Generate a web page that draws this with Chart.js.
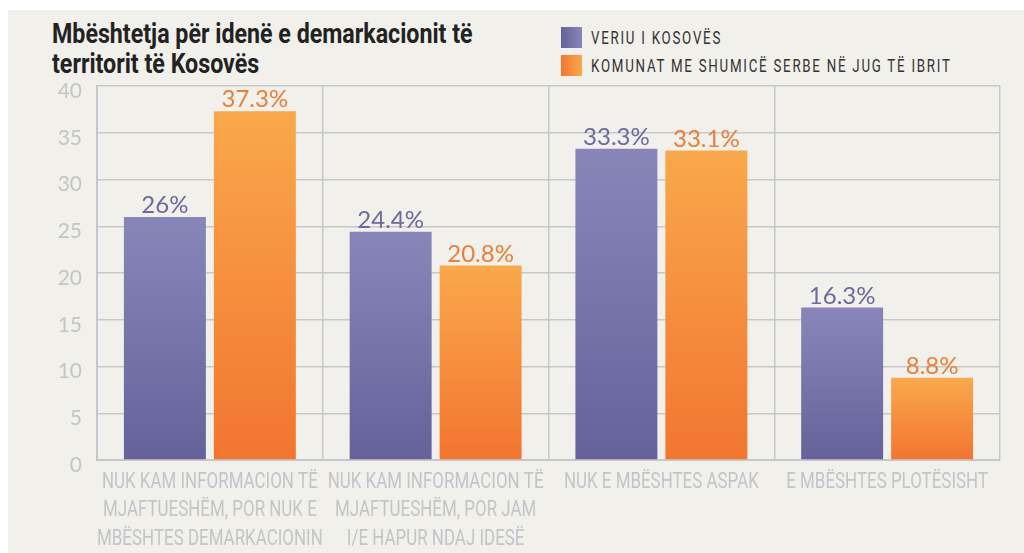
<!DOCTYPE html>
<html>
<head>
<meta charset="utf-8">
<script src="https://cdn.jsdelivr.net/npm/chart.js@4.4.1/dist/chart.umd.min.js"></script>
<style>
  body { margin: 0; background: #fff; width: 1024px; height: 553px; overflow: hidden; position: relative; }
  #panel { position: absolute; left: 8px; top: 10px; right: 0; bottom: 0; background: #f1f0eb; }
  #wrap { position: absolute; left: 0; top: 0; width: 1024px; height: 553px; }
  .title { position: absolute; left: 52px; top: 19px; font-family: Roboto, sans-serif; font-weight: 700;
    font-size: 27px; line-height: 30px; color: #222; transform: scaleX(0.86); transform-origin: 0 0; white-space: nowrap; }
  .legend { position: absolute; left: 561px; top: 27px; }
  .item { height: 28px; position: relative; }
  .sw { position: absolute; left: 0; top: 0; width: 21px; height: 21px; }
  .lt { position: absolute; left: 30px; top: 0; line-height: 21px; font-family: Roboto, sans-serif; font-size: 19px;
    letter-spacing: 2.5px; color: #333; white-space: nowrap; transform: scaleX(0.7); transform-origin: 0 50%; }
</style>
</head>
<body>
<div id="panel"></div>
<div class="title">Mbështetja për idenë e demarkacionit të<br>territorit të Kosovës</div>
<div class="legend" id="legend"></div>
<div id="wrap"><canvas id="barChart"></canvas></div>
<script>
// Mbështetja për idenë e demarkacionit

const categories = [
  ['NUK KAM INFORMACION TË', 'MJAFTUESHËM, POR NUK E', 'MBËSHTES DEMARKACIONIN'],
  ['NUK KAM INFORMACION TË', 'MJAFTUESHËM, POR JAM', 'I/E HAPUR NDAJ IDESË'],
  ['NUK E MBËSHTES ASPAK'],
  ['E MBËSHTES PLOTËSISHT'],
]
const seriesNames = ['VERIU I KOSOVËS', 'KOMUNAT ME SHUMICË SERBE NË JUG TË IBRIT']
const veriu = [26, 24.4, 33.3, 16.3]
const komunat = [37.3, 20.8, 33.1, 8.8]
const yMax = 40
const yStep = 5

const colors = [
  { light: '#8886b9', dark: '#646299', label: '#6a69a0' },
  { light: '#f9a84b', dark: '#f27530', label: '#e97f38' },
]

// legend in html, swatches go dark -> light from left
const legend = document.getElementById('legend')
seriesNames.forEach((name, i) => {
  const c = colors[i]
  legend.innerHTML +=
    '<div class="item"><span class="sw" style="background:linear-gradient(to right,' + c.dark + ',' + c.light + ')"></span>' +
    '<span class="lt">' + name + '</span></div>'
})

// vertical gradient per bar, light on top
function barGradient(c) {
  return (context) => {
    const chart = context.chart
    if (!chart.chartArea || context.type !== 'data') return c.light
    const y = chart.scales.y
    const top = y.getPixelForValue(context.parsed.y)
    const bottom = y.getPixelForValue(0)
    const g = chart.ctx.createLinearGradient(0, top, 0, bottom)
    g.addColorStop(0, c.light)
    g.addColorStop(1, c.dark)
    return g
  }
}

function fmt(v) {
  return (Number.isInteger(v) ? v : v.toFixed(1)) + '%'
}

const valueLabels = {
  id: 'valueLabels',
  afterDatasetsDraw(chart) {
    const ctx = chart.ctx
    ctx.save()
    ctx.font = '24px Lato'
    ctx.textAlign = 'center'
    ctx.textBaseline = 'alphabetic'
    chart.data.datasets.forEach((ds, di) => {
      ctx.fillStyle = colors[di].label
      chart.getDatasetMeta(di).data.forEach((bar, i) => {
        ctx.fillText(fmt(ds.data[i]), bar.x, bar.y - 4)
      })
    })
    ctx.restore()
  },
}

// condensed category labels under the axis
const xLabels = {
  id: 'xLabels',
  afterDraw(chart) {
    const ctx = chart.ctx
    const x = chart.scales.x
    ctx.save()
    ctx.font = '22px Roboto'
    ctx.fillStyle = '#c3c4c9'
    ctx.textAlign = 'center'
    ctx.textBaseline = 'middle'
    categories.forEach((lines, i) => {
      const cx = x.getPixelForValue(i)
      lines.forEach((line, j) => {
        ctx.save()
        ctx.translate(cx, chart.chartArea.bottom + 22 + j * 28.8)
        ctx.scale(0.77, 1)
        ctx.fillText(line, 0, 0)
        ctx.restore()
      })
    })
    ctx.restore()
  },
}

const data = {
  labels: categories,
  datasets: [
    {
      label: seriesNames[0],
      data: veriu,
      backgroundColor: barGradient(colors[0]),
      categoryPercentage: 0.797,
      barPercentage: 0.911,
    },
    {
      label: seriesNames[1],
      data: komunat,
      backgroundColor: barGradient(colors[1]),
      categoryPercentage: 0.797,
      barPercentage: 0.911,
    },
  ],
}

const gridColor = '#c6c7cc'

const config = {
  type: 'bar',
  data: data,
  options: {
    responsive: true,
    maintainAspectRatio: false,
    animation: false,
    layout: { padding: { top: 86, right: 24, bottom: 93, left: 0 } },
    plugins: {
      legend: { display: false },
      tooltip: { enabled: false },
    },
    scales: {
      x: {
        grid: { color: gridColor, lineWidth: 1.5, drawTicks: false },
        border: { color: gridColor, width: 2 },
        ticks: { display: false },
        afterFit: (s) => { s.height = 0 },
      },
      y: {
        min: 0,
        max: yMax,
        grid: { color: gridColor, lineWidth: 1.5, drawTicks: false },
        border: { color: gridColor, width: 2 },
        ticks: {
          stepSize: yStep,
          padding: 15,
          labelOffset: 5,
          color: '#c3c4c9',
          font: { family: 'Lato', size: 21 },
        },
        afterFit: (s) => { s.width = 97 },
      },
    },
  },
  plugins: [valueLabels, xLabels],
}

const myChart = new Chart(document.getElementById('barChart'), config)
</script>
</body>
</html>
